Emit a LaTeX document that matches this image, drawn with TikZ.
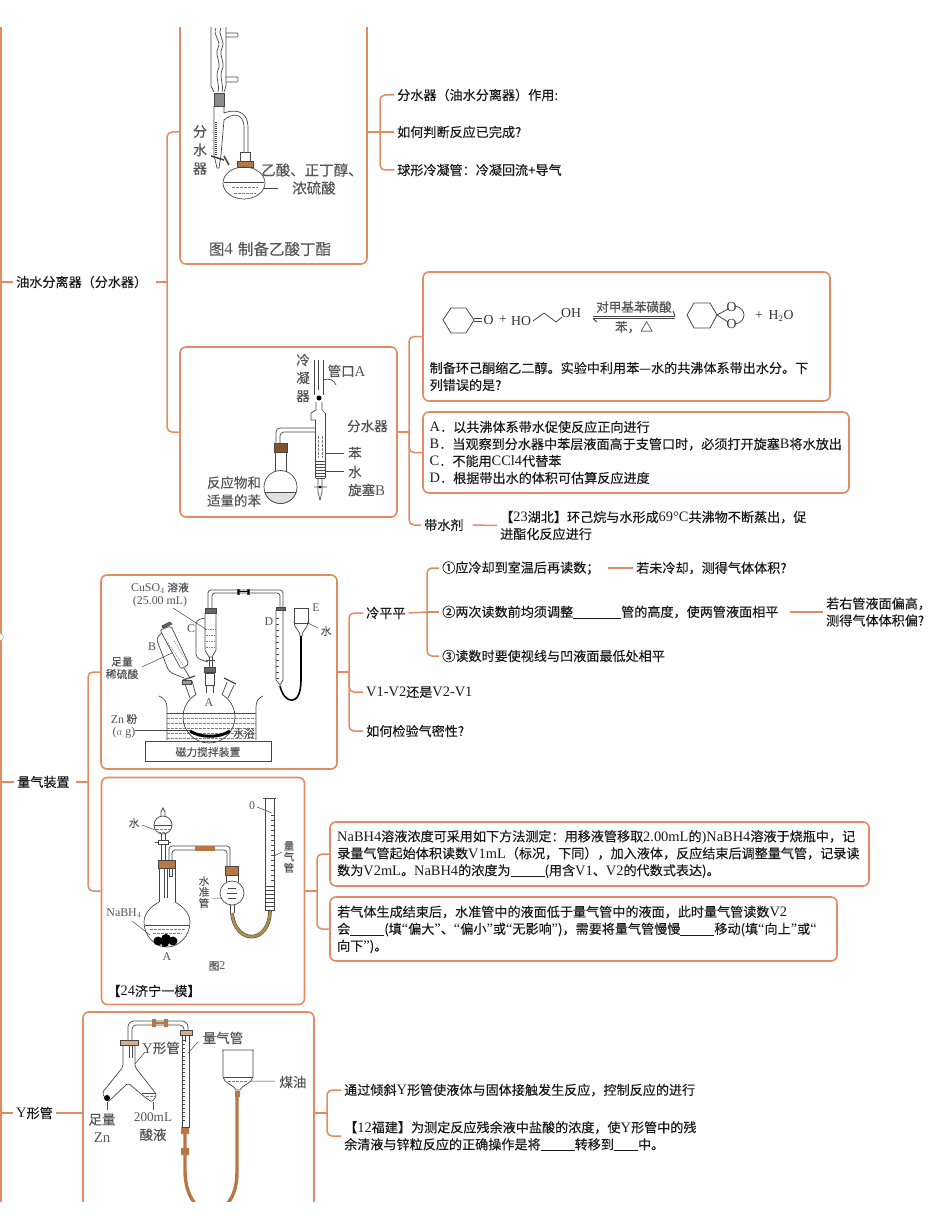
\documentclass[tikz,border=0pt]{standalone}
\usepackage{fontspec}
\setmainfont{Noto Sans CJK SC}[RawFeature={embolden=0.2}]
\newfontfamily\enfont{Liberation Serif}[Scale=1.1]
\newcommand{\en}[1]{{\enfont #1}}
\newcommand{\blank}[1]{\rule[-1.5pt]{#1pt}{.5pt}}
\definecolor{mapline}{RGB}{226,140,100}
\definecolor{glassline}{RGB}{70,70,70}
\definecolor{labelgray}{RGB}{85,85,85}
\definecolor{rubber}{RGB}{184,120,70}
\definecolor{hose}{RGB}{176,146,70}
\tikzset{
    x=1pt, y=-1pt,
    link/.style={draw=mapline,line width=1.5pt,rounded corners=5pt},
    panel/.style={draw=mapline,line width=1.6pt,rounded corners=6pt,inner sep=0pt},
    topic/.style={anchor=west,inner sep=0pt,inner xsep=3pt,align=left,text=black!90,
        font=\fontsize{13.1}{17}\selectfont},
    boxtext/.style={topic,inner xsep=0pt},
    glass/.style={draw=glassline,line width=.7pt},
    level/.style={draw=glassline!70,line width=.5pt,dash pattern=on 2.5pt off 1.5pt},
    lead/.style={draw=glassline,line width=.5pt},
    lab/.style={inner sep=0pt,align=center,text=labelgray,font=\fontsize{13.5}{18}\selectfont},
    labb/.style={lab,font=\fontsize{14.5}{18}\selectfont},
    labm/.style={lab,font=\fontsize{12.6}{17}\selectfont},
    labs/.style={lab,font=\fontsize{10.8}{12.5}\selectfont},
    chem/.style={lab,text=black!80,font=\fontsize{12.5}{14}\selectfont\enfont},
    stopper/.style={fill=rubber,draw=glassline,line width=.4pt},
    hosepipe/.style={draw=rubber,line width=2.6pt},
}
\begin{document}
\begin{tikzpicture}
    \useasboundingbox (0,0) rectangle (950,1230);
    \begin{scope}
    \clip (-2,28) rectangle (950,1201);

    % Main trunk:
    \coordinate (trunkTop) at (1,20);
    \coordinate (trunkEnd) at (1,1210);
    \draw [link] (trunkTop) -- (trunkEnd);
    \node [circle,draw=black!35,fill=white,line width=.5pt,minimum size=7pt,inner sep=0pt] (fold) at (0,637) {};

    % First level topics:
    \node [topic] (oilSep) at (13,282) {油水分离器（分水器）};
    \node [topic] (gasDev) at (14,782) {量气装置};
    \node [topic] (yTube) at (13,1113) {\en{Y}形管};
    \draw [link] (trunkTop |- oilSep) -- (oilSep.west);
    \draw [link] (trunkTop |- gasDev) -- (gasDev.west);
    \draw [link] (trunkTop |- yTube) -- (yTube.west);

    % Picture panels:
    \node [panel,minimum width=187pt,minimum height=264pt] (figButyl) at (273.5,132) {};
    \node [panel,minimum width=217pt,minimum height=170pt] (figKetal) at (288.5,432) {};
    \node [panel,minimum width=236pt,minimum height=194pt] (figCopper) at (219,672) {};
    \node [panel,minimum width=203pt,minimum height=227pt] (figBorate) at (203,891) {};
    \node [panel,minimum width=231pt,minimum height=202pt] (figYtube) at (198.5,1113) {};

    % Oil-water separator branch:
    \coordinate (hubOil) at (167,282);
    \draw [link] (oilSep.east) ++(6,0) -- (hubOil);
    \draw [link] (hubOil) |- (figButyl.west);
    \draw [link] (hubOil) |- (figKetal.west);

    \node [topic] (sepUse) at (394,95) {分水器（油水分离器）作用:};
    \node [topic] (sepJudge) at (394,132) {如何判断反应已完成?};
    \node [topic] (sepBall) at (394,170) {球形冷凝管：冷凝回流+导气};
    \coordinate (hubButyl) at (380,132);
    \draw [link] (figButyl.east) -- (hubButyl);
    \draw [link] (hubButyl) |- (sepUse.west);
    \draw [link] (hubButyl) -- (sepJudge.west);
    \draw [link] (hubButyl) |- (sepBall.west);

    \node [panel,minimum width=407pt,minimum height=129pt] (boxScheme) at (626.5,336.5) {};
    \node [panel,minimum width=426pt,minimum height=81pt] (boxChoice) at (636,452.5) {};
    \node [boxtext] (schemeText) at (429.5,376.5) {制备环己酮缩乙二醇。实验中利用苯—水的共沸体系带出水分。下\\列错误的是?};
    \node [boxtext] (choiceText) at (429.5,452.5) {\en{A}．以共沸体系带水促使反应正向进行\\\en{B}．当观察到分水器中苯层液面高于支管口时，必须打开旋塞\en{B}将水放出\\\en{C}．不能用\en{CCl4}代替苯\\\en{D}．根据带出水的体积可估算反应进度};
    \node [topic] (entrainer) at (421,525) {带水剂};
    \node [topic] (entrainerNote) at (497,525.5) {【\en{23}湖北】环己烷与水形成\en{69°C}共沸物不断蒸出，促\\进酯化反应进行};
    \coordinate (hubKetal) at (409,432);
    \draw [link] (figKetal.east) -- (hubKetal);
    \draw [link] (hubKetal) |- (boxScheme.west);
    \draw [link] (hubKetal) |- (boxChoice.west);
    \draw [link] (hubKetal) |- (entrainer.west);
    \draw [link] (entrainer.east) ++(6,0) -- (entrainerNote.west);

    % Gas measuring branch:
    \coordinate (hubGas) at (88,782);
    \draw [link] (gasDev.east) ++(3,0) -- (hubGas);
    \draw [link] (hubGas) |- (figCopper.west);
    \draw [link] (hubGas) |- (figBorate.west);

    \node [topic] (level) at (363,613) {冷平平};
    \node [topic] (order) at (363,692) {\en{V1-V2}还是\en{V2-V1}};
    \node [topic] (leak) at (363,731) {如何检验气密性?};
    \coordinate (hubCopper) at (349,672);
    \draw [link] (figCopper.east) -- (hubCopper);
    \draw [link] (hubCopper) |- (level.west);
    \draw [link] (hubCopper) |- (order.west);
    \draw [link] (hubCopper) |- (leak.west);

    \node [topic] (stepCool) at (439,568) {①应冷却到室温后再读数；};
    \node [topic] (stepAdjust) at (439,612) {②两次读数前均须调整\blank{48}管的高度，使两管液面相平};
    \node [topic] (stepEye) at (439,656) {③读数时要使视线与凹液面最低处相平};
    \node [topic] (askCool) at (633,568) {若未冷却，测得气体体积?};
    \node [topic] (askRight) at (823,612) {若右管液面偏高，\\测得气体体积偏?};
    \coordinate (hubLevel) at (427,612);
    \draw [link] (level.east) -- (hubLevel);
    \draw [link] (hubLevel) |- (stepCool.west);
    \draw [link] (hubLevel) -- (stepAdjust.west);
    \draw [link] (hubLevel) |- (stepEye.west);
    \draw [link] (stepCool.east) ++(5,0) -- (askCool.west);
    \draw [link] (stepAdjust.east) ++(8,0) -- (askRight.west);

    \node [panel,minimum width=539pt,minimum height=64pt] (boxMethod) at (599.5,854) {};
    \node [panel,minimum width=507pt,minimum height=64pt] (boxError) at (583.5,929) {};
    \node [boxtext] (methodText) at (337,854) {\en{NaBH4}溶液浓度可采用如下方法测定：用移液管移取\en{2.00mL}的\en{)NaBH4}溶液于烧瓶中，记\\录量气管起始体积读数\en{V1mL}（标况，下同），加入液体，反应结束后调整量气管，记录读\\数为\en{V2mL}。\en{NaBH4}的浓度为\blank{34}(用含\en{V1}、\en{V2}的代数式表达)。};
    \node [boxtext] (errorText) at (337,929.5) {若气体生成结束后，水准管中的液面低于量气管中的液面，此时量气管读数\en{V2}\\会\blank{34}(填\en{“}偏大\en{”}、\en{“}偏小\en{”}或\en{“}无影响\en{”})，需要将量气管慢慢\blank{34}移动(填\en{“}向上\en{”}或\en{“}\\向下\en{”})。};
    \coordinate (hubBorate) at (317,891);
    \draw [link] (figBorate.east) -- (hubBorate);
    \draw [link] (hubBorate) |- (boxMethod.west);
    \draw [link] (hubBorate) |- (boxError.west);

    % Y tube branch:
    \draw [link] (yTube.east) -- (figYtube.west);
    \node [topic] (tilt) at (341,1090) {通过倾斜\en{Y}形管使液体与固体接触发生反应，控制反应的进行};
    \node [topic] (fujian) at (341,1136) {【\en{12}福建】为测定反应残余液中盐酸的浓度，使\en{Y}形管中的残\\余清液与锌粒反应的正确操作是将\blank{34}转移到\blank{24}中。};
    \coordinate (hubY) at (327,1113);
    \draw [link] (figYtube.east) -- (hubY);
    \draw [link] (hubY) |- (tilt.west);
    \draw [link] (hubY) |- (fujian.west);

    % Figure: butyl acetate apparatus
    \draw [glass] (211,20) -- (211,86) -- (214,92) (226,20) -- (226,86) -- (224,92);
    \draw [glass] (216,28) .. controls (212,36) and (222,40) .. (218,48) .. controls (214,56) and (222,62) .. (218,70) .. controls (215,78) and (220,84) .. (218,92);
    \draw [glass] (221,28) .. controls (217,36) and (226,40) .. (222,48) .. controls (218,56) and (226,62) .. (222,70) .. controls (219,78) and (224,84) .. (222,92);
    \draw [glass,rounded corners=1pt] (226,33) -- (238,33) -- (238,37) -- (226,37) (226,77) -- (238,77) -- (238,82) -- (226,82);
    \draw [glass,fill=black!45] (214,93) rectangle (224,106);
    \draw [glass] (214,106) -- (214,155) -- (217,168) -- (219,168) -- (221,155) -- (224,120) .. controls (232,113) and (244,112) .. (244,128) -- (244,152);
    \draw [glass] (224,106) -- (224,113) .. controls (232,110) and (248,108) .. (248,128) -- (248,152);
    \draw [glass,dash pattern=on 1pt off 1pt,line width=1.2pt] (216,122) -- (216,155);
    \draw [glass,line width=1.6pt] (211,156) -- (224,160) (224,156) -- (229,165);
    \draw [glass] (240,152) rectangle (250,162);
    \draw [stopper] (237,161) rectangle (253,167);
    \draw [glass] (244,183) ellipse (21 and 16);
    \draw [glass] (224,182) -- (264,182);
    \draw [level] (232,187) -- (258,187) (234,193) -- (256,193);
    \draw [lead] (264,188) -- (278,188);
    \node [labb,font=\fontsize{14}{18.5}\selectfont] (lblSep) at (200,150) {分\\水\\器};
    \node [labb,anchor=west] (lblAcid) at (261,170) {乙酸、正丁醇、};
    \node [labb,anchor=west] (lblSulf) at (292,188) {浓硫酸};
    \node [lab,font=\fontsize{15.5}{17}\selectfont] (lblFigFour) at (270,249) {图\en{4}\hspace{5pt}制备乙酸丁酯};

    % Figure: ketal apparatus
    \draw [glass] (314,360) -- (314,395) (323,360) -- (323,395) (318.5,360) -- (318.5,390);
    \draw [glass] (323,380) .. controls (330,378) and (334,380) .. (336,385);
    \fill [black] (319,398) circle (2.5);
    \draw [glass] (316,402) -- (316,410) -- (311,413) -- (311,420) -- (315.5,420) (322,402) -- (322,410) -- (325,413);
    \draw [glass] (315.5,420) -- (315.5,478) (325,413) -- (325,478) (315.5,478) -- (325,478);
    \draw [glass,rounded corners=4pt] (315.5,428) -- (276,428) -- (276,443) (315.5,432) -- (280,432) -- (280,443);
    \foreach \ty in {461,464,467,470,473,476} \draw [glass] (315.5,\ty) -- (325,\ty);
    \draw [level] (318,436) -- (318,458) (322,436) -- (322,458);
    \draw [glass] (318,478) -- (318,492) -- (320,500) -- (322,492) -- (322,478) (314,487) -- (327,487);
    \fill [black] (320,487) circle (1.4);
    \draw [stopper,fill=rubber!70!black] (274,443) rectangle (287,452);
    \draw [glass] (275,452) -- (275,472) (286,452) -- (286,472);
    \draw [glass] (280.5,487) circle (16.5);
    \begin{scope}
    \clip (262,492) rectangle (299,505);
    \fill [black!12] (280.5,487) circle (16.5);
    \draw [glass] (280.5,487) circle (16.5);
    \end{scope}
    \draw [glass] (265,492) -- (296,492);
    \draw [lead] (325,453) -- (344,453) (325,471) -- (344,471);
    \node [lab] (lblCond) at (303,378) {冷\\凝\\器};
    \node [lab,anchor=west] (lblPort) at (327.5,371) {管口\en{A}};
    \node [lab,anchor=west] (lblSepTwo) at (347,426) {分水器};
    \node [lab,anchor=west] (lblBenz) at (348,453) {苯};
    \node [lab,anchor=west] (lblWat) at (348,472) {水};
    \node [lab,anchor=west] (lblCock) at (348,490) {旋塞\en{B}};
    \node [lab] (lblReact) at (234,491.5) {反应物和\\适量的苯};

    % Reaction scheme
    \draw [glass,line width=.8pt] (443,320) -- (451,308) -- (466,308) -- (474,320) -- (466,333) -- (451,333) -- cycle;
    \draw [glass,line width=.8pt] (474,318.5) -- (482,318.5) (474,321.5) -- (482,321.5);
    \node [chem] (ketO) at (488.5,320) {O};
    \node [chem] (ketPlus) at (503,320) {+};
    \node [chem] (diolHo) at (521,321) {HO};
    \node [chem] (diolOh) at (571,313) {OH};
    \draw [glass,line width=.8pt] (533,321) -- (544,313) -- (556,322) -- (562,317);
    \node [labm] (catTop) at (634,307) {对甲基苯磺酸};
    \draw [glass,line width=1pt] (593,316) -- (675,316) (593,318.5) -- (675,318.5);
    \draw [glass,line width=1pt] (673,311) -- (675,316) (597,322) -- (593,318.5);
    \node [labm] (catBot) at (634,327) {苯，△};
    \draw [glass,line width=.8pt] (687,315) -- (694,303) -- (710,303) -- (717,315) -- (710,328) -- (694,328) -- cycle;
    \draw [glass,line width=.8pt] (717,315) -- (728,309) (717,315) -- (728,322);
    \node [chem] (ringOa) at (731.5,307) {O};
    \node [chem] (ringOb) at (731.5,324) {O};
    \draw [glass,line width=.8pt] (735,306) .. controls (747,308) and (747,322) .. (735,324);
    \node [chem] (prodPlus) at (759,316) {+};
    \node [chem] (prodWater) at (781,316) {H$_2$O};

    % Figure: copper sulfate apparatus
    \draw [glass] (145,741) rectangle (271,761);
    \node [labs] (lblStir) at (208,752) {磁力搅拌装置};
    \draw [glass] (159,696) .. controls (164,698) and (167,702) .. (167,707) -- (167,740);
    \draw [glass] (263,696) .. controls (258,698) and (256,702) .. (256,707) -- (256,740);
    \draw [glass] (167,713) -- (256,713);
    \foreach \ly in {718,723,728,733,738} \draw [level] (167,\ly) -- (256,\ly);
    \fill [white] (195,682) rectangle (224,700);
    \draw [glass] (209,717) circle (26);
    \fill [white] (196,682) rectangle (222,698);
    \draw [glass] (206,685) -- (206,693) (213,685) -- (213,693);
    \draw [glass] (190,698) -- (185,684) (196,695) -- (192,681);
    \draw [glass] (222,695) -- (227,682) (228,698) -- (234,685);
    \draw [glass,line width=1.2pt] (183,680) -- (195,676) (224,678) -- (236,684);
    \draw [glass] (205,673) rectangle (214,685);
    \draw [glass,fill=black!60] (204,667) rectangle (215,672);
    \draw [black,line width=3pt] (190,731) .. controls (200,738) and (220,738) .. (230,731);
    % tube B
    \draw [glass,rounded corners=2pt] (171,626) -- (189,664) -- (181,669) -- (160,630) -- cycle;
    \draw [glass,fill=black!60] (162,626) -- (170,622) -- (172,624) -- (163,628) -- cycle;
    \draw [level,dash pattern=on 1.5pt off 1pt] (168,643) -- (183,665) (174,641) -- (188,663);
    \draw [glass,rounded corners=4pt] (162,633) -- (156,638) -- (169,672) -- (184,678);
    \draw [glass] (184,668) -- (190,678);
    \draw [glass,fill=black!40] (182,680) rectangle (191,684);
    % tube C
    \draw [glass] (205,613) -- (205,650) -- (209,657) -- (212,657) -- (216,650) -- (216,613);
    \draw [glass,fill=black!60] (205,608) rectangle (216,613);
    \draw [glass,rounded corners=4pt] (205,618) -- (196,620) -- (196,658) -- (208,662);
    \draw [level,dash pattern=on 1.5pt off 1pt] (205,629) -- (216,629) (206,635) -- (216,635) (206,641) -- (216,641) (206,647) -- (216,647);
    \draw [glass] (209,657) -- (209,667) (212,657) -- (212,667) (206,660) -- (215,660);
    % gas line to D
    \draw [glass,rounded corners=3pt] (208,608) -- (208,590) -- (283,590) -- (283,607);
    \draw [glass,rounded corners=3pt] (212,608) -- (212,593) -- (280,593) -- (280,607);
    \draw [glass,fill=black] (237,589) rectangle (239,594) (247,589) rectangle (249,594);
    \draw [black,line width=1.4pt] (238,591.5) -- (248,591.5);
    % D and E
    \draw [glass,fill=black!60] (276,607) rectangle (285,610);
    \draw [glass] (276,610) -- (276,680) -- (280,685) -- (283,680) -- (283,610);
    \foreach \ly in {618,624,...,678} \draw [glass,line width=.4pt] (276,\ly) -- (279,\ly);
    \draw [glass] (294,608) rectangle (308,623);
    \draw [glass] (294,622) .. controls (295,630) and (300,630) .. (300,636) -- (302,636) .. controls (302,630) and (307,630) .. (308,622);
    \draw [black,line width=1.6pt] (280,686) .. controls (284,704) and (301,708) .. (301,680) -- (301,636);
    \draw [lead] (308,623) -- (318,628);
    \draw [lead] (173,608) -- (207,630);
    \draw [lead] (142,667) -- (172,653);
    \draw [lead] (135,730) -- (190,730);
    \node [labs] (lblCu) at (160,594.5) {\en{CuSO$_4$} 溶液\\\en{(25.00 mL)}};
    \node [labs] (lblAcidB) at (122,668) {足量\\稀硫酸};
    \node [labs] (lblZn) at (124,726) {\en{Zn} 粉\\\en{($a$ g)}};
    \node [labs] (lblBath) at (244,733) {水浴};
    \node [labs] (lblLetA) at (209,703) {\en{A}};
    \node [labs] (lblLetB) at (152,647) {\en{B}};
    \node [labs] (lblLetC) at (191,629) {\en{C}};
    \node [labs] (lblLetD) at (269,622) {\en{D}};
    \node [labs] (lblLetE) at (316,608) {\en{E}};
    \node [labs] (lblWatE) at (326,631) {水};

    % Figure: borohydride apparatus
    \draw [glass] (163,825) circle (9);
    \draw [glass] (161,816) -- (161,812) -- (163,808) -- (165,812) -- (165,816);
    \draw [glass] (154,825) -- (172,825);
    \draw [level] (156,829) -- (170,829) (158,832) -- (168,832);
    \draw [glass] (161,834) -- (161,860) (165,834) -- (165,860);
    \draw [glass] (155,842) -- (171,842);
    \draw [glass,fill=white] (158,840) rectangle (168,844);
    \draw [stopper] (158,860) rectangle (175,868);
    \draw [glass] (164,868) -- (164,898) (167,868) -- (167,898);
    \draw [glass,rounded corners=3pt] (169,860) -- (169,846) -- (230,846) -- (230,867);
    \draw [glass,rounded corners=3pt] (172,860) -- (172,850) -- (227,850) -- (227,867);
    \draw [glass] (169,868) -- (169,876) -- (172,876) -- (172,868);
    \draw [hosepipe,line width=5pt] (195,848) -- (215,848);
    \draw [glass] (159,868) -- (159,902) (175,868) -- (175,902);
    \draw [glass] (159,902) .. controls (150,907) and (144,914) .. (144,922) .. controls (144,936) and (155,947) .. (167,947) .. controls (179,947) and (190,936) .. (190,922) .. controls (190,914) and (184,907) .. (175,902);
    \draw [glass] (145,925) -- (189,925);
    \draw [level] (150,929) -- (185,929) (153,933) -- (182,933);
    \fill [black] (158,941) circle (4.5) (166,939) circle (5) (173,941) circle (4.5) (165,943) circle (4);
    \draw [stopper] (225,866) rectangle (238,875);
    \draw [glass] (226,875) -- (226,882) (238,875) -- (238,882);
    \draw [glass] (232,893) circle (12);
    \draw [glass,line width=.5pt] (228,888) -- (236,888) (227,893) -- (237,893) (228,898) -- (236,898);
    \draw [glass] (230,905) -- (230,913) (234,905) -- (234,913);
    \draw [glassline,line width=3.6pt] (232,913) .. controls (235,945) and (270,945) .. (270,910);
    \draw [hose,line width=2.4pt] (232,913) .. controls (235,945) and (270,945) .. (270,910);
    \draw [glass] (265,798) -- (265,910) -- (274,910) -- (274,798);
    \draw [glass] (263,798) -- (276,798);
    \foreach \ly in {815,820,...,880} \draw [glass,line width=.4pt] (271,\ly) -- (274,\ly);
    \foreach \ly in {886,890,...,906} \draw [glass,line width=.4pt] (266,\ly) -- (274,\ly);
    \draw [lead] (257,807) -- (272,813) (274,856) -- (282,852) (212,898) -- (221,898) (142,825) -- (155,830) (132,921) -- (150,935);
    \node [labs] (lblZero) at (252,806) {\en{0}};
    \node [labs,font=\fontsize{10.5}{11}\selectfont] (lblBuret) at (289,857) {量\\气\\管};
    \node [labs,font=\fontsize{10.5}{11}\selectfont] (lblLevelTube) at (204,892) {水\\准\\管};
    \node [labs] (lblWatB) at (134,823) {水};
    \node [labs] (lblNa) at (124,913) {\en{NaBH$_4$}};
    \node [labs] (lblFlaskA) at (167,957) {\en{A}};
    \node [labs] (lblFigTwo) at (217,966) {图\en{2}};
    \node [topic,anchor=center,inner sep=0pt] (lblJining) at (154,991) {【\en{24}济宁一模】};

    % Figure: Y tube apparatus
    \draw [hosepipe,line width=3.4pt] (185,1130) -- (185,1170) .. controls (185,1225) and (237,1225) .. (237,1172) -- (237,1092);
    \draw [stopper,draw=none] (181,1127) rectangle (189,1134) (181,1148) rectangle (189,1155) (235,1091) rectangle (240,1097);
    \draw [glass,rounded corners=6pt] (128,1040) -- (128,1021) -- (188,1021) -- (188,1030);
    \draw [glass,rounded corners=4pt] (132,1040) -- (132,1025) -- (184,1025) -- (184,1030);
    \draw [stopper,draw=none] (152,1019) rectangle (156,1027) (164,1019) rectangle (168,1027);
    \draw [rubber,line width=1.4pt] (156,1023) -- (164,1023);
    \draw [stopper,fill=rubber!60] (120,1040) rectangle (138,1045);
    \draw [stopper,fill=rubber!60] (180,1030) rectangle (192,1035);
    \draw [glass] (129,1045) -- (129,1058) (132,1045) -- (132,1058);
    \draw [glass,rounded corners=2pt] (123,1045) -- (123,1067) -- (102,1093) -- (108,1102) -- (128,1083) -- (146,1098) -- (152,1102) -- (157,1095) -- (135,1067) -- (135,1045);
    \draw [level] (146,1096) -- (155,1096);
    \draw [glass] (142,1093) -- (156,1093);
    \fill [black] (107,1098) circle (3);
    \draw [lead] (153,1102) -- (153,1110) (107,1102) -- (107,1110);
    \draw [glass] (182,1035) -- (182,1127) -- (189,1127) -- (189,1035);
    \draw [glass] (185,1035) -- (185,1042);
    \foreach \ly in {1040,1044,...,1120} \draw [glass,line width=.5pt] (182,\ly) -- (185,\ly);
    \draw [glass] (222,1050) -- (254,1050) (223,1050) -- (223,1077) .. controls (224,1084) and (235,1085) .. (236,1090) -- (240,1090) .. controls (241,1085) and (252,1084) .. (253,1077) -- (253,1050);
    \draw [glass] (223,1077) -- (253,1077);
    \draw [level] (228,1081) -- (248,1081);
    \draw [lead] (145,1052) -- (135,1064) (198,1042) -- (188,1053) (250,1081) -- (275,1081);
    \node [lab] (lblFoot) at (102,1128) {足量\\\en{Zn}};
    \node [lab] (lblTwoH) at (153,1127) {{\fontsize{12}{18}\selectfont\en{200mL}}\\酸液};
    \node [lab] (lblYtube) at (161,1048) {\en{Y}形管};
    \node [lab] (lblMeter) at (223,1038) {量气管};
    \node [lab] (lblKero) at (293,1082) {煤油};
    \end{scope}
\end{tikzpicture}
\end{document}
